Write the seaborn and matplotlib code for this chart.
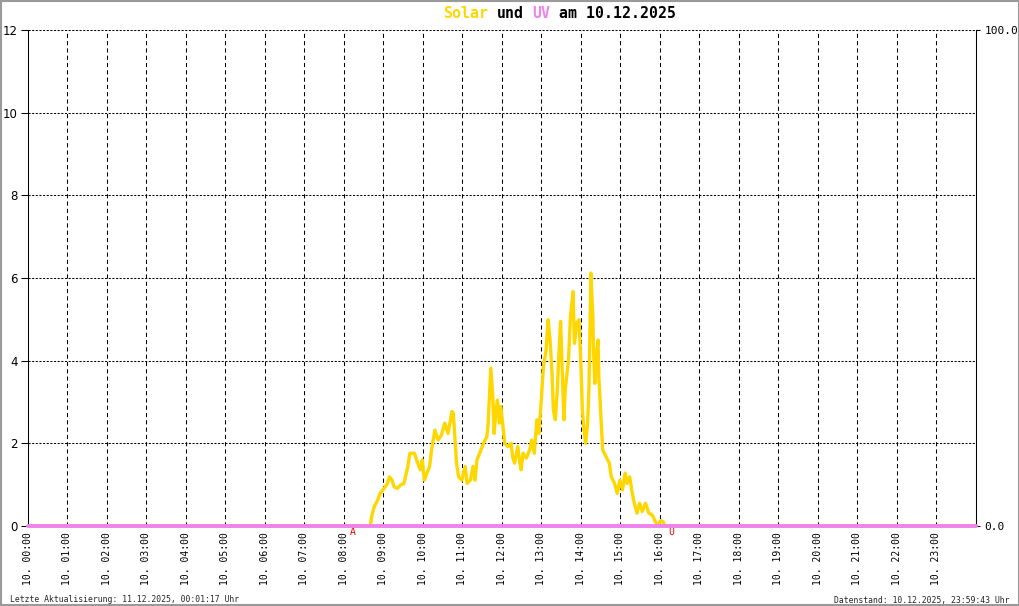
import matplotlib
matplotlib.use("Agg")
import matplotlib.pyplot as plt
from matplotlib.patches import Rectangle
import seaborn as sns
import pandas as pd

# Messwerte Solarstrahlung (W/m² bzw. Skala links) vom 10.12.2025
zeiten = ["00:00", "08:40", "08:42", "08:46", "08:50", "08:55", "09:00", "09:06", "09:09", "09:13",
          "09:16", "09:21", "09:26", "09:31", "09:37", "09:40", "09:47", "09:52", "09:56", "09:59",
          "10:02", "10:06", "10:10", "10:13", "10:18", "10:23", "10:28", "10:33", "10:38", "10:44",
          "10:46", "10:49", "10:51", "10:54", "10:59", "11:04", "11:07", "11:12", "11:16", "11:19",
          "11:22", "11:28", "11:33", "11:37", "11:39", "11:43", "11:46", "11:48", "11:51", "11:53",
          "11:56", "11:58", "12:01", "12:04", "12:09", "12:14", "12:16", "12:19", "12:24", "12:27",
          "12:29", "12:32", "12:37", "12:42", "12:45", "12:49", "12:53", "12:56", "12:59", "13:03",
          "13:07", "13:10", "13:13", "13:16", "13:18", "13:21", "13:24", "13:26", "13:29", "13:31",
          "13:34", "13:36", "13:41", "13:44", "13:48", "13:50", "13:54", "13:57", "14:00", "14:02",
          "14:05", "14:07", "14:10", "14:12", "14:14", "14:15", "14:18", "14:19", "14:21", "14:24",
          "14:26", "14:27", "14:29", "14:31", "14:33", "14:38", "14:43", "14:46", "14:51", "14:55",
          "14:59", "15:03", "15:07", "15:10", "15:14", "15:17", "15:21", "15:25", "15:29", "15:33",
          "15:38", "15:43", "15:48", "15:53", "15:57", "16:01", "16:05", "16:07", "24:00"]
solar = [0, 0, 0.23, 0.47, 0.59, 0.79, 0.89, 1.03, 1.19, 1.11,
         0.95, 0.91, 0.99, 1.03, 1.44, 1.76, 1.76, 1.52, 1.36, 1.60,
         1.11, 1.28, 1.44, 1.84, 2.32, 2.08, 2.20, 2.49, 2.24, 2.77,
         2.73, 2.00, 1.52, 1.19, 1.11, 1.44, 1.03, 1.11, 1.44, 1.11,
         1.60, 1.84, 2.04, 2.16, 2.49, 3.82, 3.13, 2.24, 2.81, 3.05,
         2.49, 2.89, 2.49, 2.00, 1.92, 2.00, 1.68, 1.52, 1.92, 1.52,
         1.36, 1.76, 1.64, 1.84, 2.08, 1.76, 2.57, 2.24, 2.89, 3.86,
         4.26, 4.99, 4.50, 3.70, 2.81, 2.57, 3.29, 4.02, 4.95, 4.02,
         2.57, 3.29, 4.02, 5.07, 5.67, 4.42, 4.91, 4.99, 3.86, 2.81,
         2.24, 2.00, 2.49, 3.29, 5.07, 6.12, 5.07, 4.26, 3.45, 4.26,
         4.50, 3.62, 3.05, 2.41, 1.84, 1.68, 1.52, 1.19, 1.03, 0.79,
         1.11, 0.87, 1.28, 1.03, 1.19, 0.87, 0.55, 0.31, 0.55, 0.35,
         0.55, 0.31, 0.27, 0.10, 0.02, 0.13, 0.10, 0, 0]

# UV-Index (rechte Skala 0..100)
uv_zeiten = ["00:00", "24:00"]
uv = [0, 0]

# Sonnenaufgang / -untergang
marker_text = ["A", "U"]
marker_zeiten = ["08:14", "16:17"]

stunden_labels = [f"10. {h:02d}:00" for h in range(24)]
y_ticks = [0, 2, 4, 6, 8, 10, 12]

datum = "10.12.2025"
aktualisierung = "Letzte Aktualisierung: 11.12.2025, 00:01:17 Uhr"
datenstand = "Datenstand: 10.12.2025, 23:59:43 Uhr"

GOLD = "#FFD700"
VIOLETT = "#EE82EE"


def in_stunden(liste):
    return [int(z.split(":")[0]) + int(z.split(":")[1]) / 60 for z in liste]


df = pd.DataFrame({"stunde": in_stunden(zeiten), "solar": solar})
df_uv = pd.DataFrame({"stunde": in_stunden(uv_zeiten), "uv": uv})

sns.set_style("white")
plt.rcParams["font.family"] = ["DejaVu Sans"]

W, H = 1020, 606
fig = plt.figure(figsize=(W / 100, H / 100), dpi=100)
ax = fig.add_axes([28 / W, 1 - 526 / H, (976 - 28) / W, (526 - 30) / H])

sns.lineplot(data=df, x="stunde", y="solar", ax=ax, color=GOLD, linewidth=2.4,
             sort=False, clip_on=False, zorder=3)

ax.set_xlim(0, 24)
ax.set_ylim(0, 12)
ax.set_xticks(range(24))
ax.set_xticklabels(stunden_labels, rotation=90, family="DejaVu Sans Mono", fontsize=7)
ax.set_yticks(y_ticks)
ax.set_yticklabels([str(v) for v in y_ticks], fontsize=8.5)
ax.set_xlabel("")
ax.set_ylabel("")
ax.set_axisbelow(True)
ax.grid(axis="x", color="black", linestyle=(0, (4, 3)), linewidth=0.75)
ax.grid(axis="y", color="black", linestyle=(0, (2, 1.5)), linewidth=0.75)
ax.tick_params(axis="x", length=0, pad=4.3, colors="black")
ax.tick_params(axis="y", length=5, width=0.75, pad=2.5, colors="black")
for s in ["top", "bottom"]:
    ax.spines[s].set_visible(False)
for s in ["left", "right"]:
    ax.spines[s].set_color("black")
    ax.spines[s].set_linewidth(0.75)

# UV auf zweiter Achse (liegt ueber der Solarkurve)
ax2 = ax.twinx()
ax2.set_zorder(ax.get_zorder() + 1)
ax2.patch.set_visible(False)
sns.lineplot(data=df_uv, x="stunde", y="uv", ax=ax2, color=VIOLETT, linewidth=2.8,
             clip_on=False, zorder=4)
for ln in ax2.get_lines():
    ln.set_snap(False)
ax2.set_ylim(0, 100)
ax2.set_yticks([0, 100])
ax2.set_yticklabels(["0.0", "100.0"], family="DejaVu Sans Mono", fontsize=8)
ax2.set_ylabel("")
ax2.tick_params(axis="y", length=3, width=0.75, pad=3, colors="black")
for s in ["top", "bottom", "left"]:
    ax2.spines[s].set_visible(False)
ax2.spines["right"].set_color("black")
ax2.spines["right"].set_linewidth(0.75)

# Markierungen A / U
for txt, t in zip(marker_text, in_stunden(marker_zeiten)):
    ax.annotate(txt, xy=(t, 0), xytext=(0, -1), textcoords="offset points",
                ha="center", va="top", color="red", fontsize=7,
                family="DejaVu Sans Mono", annotation_clip=False)

# Titel mit farbigen Teilen
fs_titel = 10.7
schritt = 0.602 * fs_titel * 100 / 72 / W
x0 = 443 / W
teile = [("Solar", GOLD), (" und ", "black"), ("UV", VIOLETT), (" am " + datum, "black")]
pos = 0
for s, c in teile:
    lead = len(s) - len(s.lstrip())
    fig.text(x0 + (pos + lead) * schritt, 1 - 13 / H, s.strip(), color=c, ha="left",
             va="center", family="DejaVu Sans Mono", fontsize=fs_titel, weight="bold")
    pos += len(s)

fig.text(10 / W, 1 - 600 / H, aktualisierung, ha="left", va="center",
         family="DejaVu Sans Mono", fontsize=5.9)
fig.text(1010 / W, 1 - 600 / H, datenstand, ha="right", va="center",
         family="DejaVu Sans Mono", fontsize=5.9)

fig.add_artist(Rectangle((0.001, 0.001), 0.998, 0.997, transform=fig.transFigure,
                         fill=False, edgecolor="#9a9a9a", linewidth=1.5))

fig.savefig("out.png", dpi=100)
plt.close()
